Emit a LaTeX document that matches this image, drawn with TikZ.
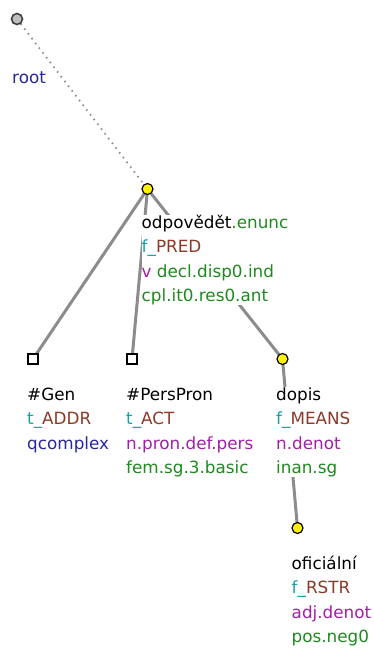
\documentclass[tikz,border=0pt]{standalone}
\usepackage{fontspec}
\setmainfont{DejaVu Sans}
\definecolor{tgreen}{HTML}{1F8A1F}
\definecolor{tteal}{HTML}{1AA0A0}
\definecolor{tbrown}{HTML}{8B3A2A}
\definecolor{tpurple}{HTML}{A020A8}
\definecolor{tblue}{HTML}{28289E}
\definecolor{tedge}{HTML}{8C8C8C}
\tikzset{
  yel/.style={circle,draw=black,line width=1.2pt,fill=yellow,minimum size=11pt,inner sep=0pt},
  rootdot/.style={circle,draw=black!75,line width=1.6pt,fill=black!25,minimum size=11pt,inner sep=0pt},
  sq/.style={rectangle,draw=black,line width=1.3pt,fill=white,minimum size=10pt,inner sep=0pt},
  edge/.style={draw=tedge,line width=3pt},
  lbl/.style={anchor=base west,align=left,inner sep=0pt,fill=white,font=\fontsize{16.8}{24.5}\selectfont},
}
\begin{document}
\begin{tikzpicture}[x=1pt,y=-1pt]
\useasboundingbox (0,0) rectangle (374,648);
% edges
\coordinate (rc) at (17,19);
\coordinate (oc) at (147.5,189);
\coordinate (gc) at (33,359);
\coordinate (pc) at (132,359);
\coordinate (dc) at (282.5,359);
\coordinate (fc) at (297.5,528);
\draw[tedge,line width=1.8pt,dash pattern=on 1.5pt off 4.5pt] (rc) -- (oc);
\draw[edge] (oc) -- (gc);
\draw[edge] (oc) -- (pc);
\draw[edge] (oc) -- (dc);
\draw[edge] (dc) -- (fc);
% labels (anchor = baseline of the last line)
\node[lbl] (troot) at (12,83) {\textcolor{tblue}{root}};
\node[lbl] (todp) at (141.5,301.5) {odpovědět\textcolor{tgreen}{.enunc}\\
\textcolor{tteal}{f\_}\textcolor{tbrown}{PRED}\\
\textcolor{tpurple}{v}\ \textcolor{tgreen}{decl.disp0.ind}\\
\textcolor{tgreen}{cpl.it0.res0.ant}};
\node[lbl] (tgen) at (27,449) {\#Gen\\
\textcolor{tteal}{t\_}\textcolor{tbrown}{ADDR}\\
\textcolor{tblue}{qcomplex}};
\node[lbl] (tpers) at (126,473.5) {\#PersPron\\
\textcolor{tteal}{t\_}\textcolor{tbrown}{ACT}\\
\textcolor{tpurple}{n.pron.def.pers}\\
\textcolor{tgreen}{fem.sg.3.basic}};
\node[lbl] (tdop) at (276,473.5) {dopis\\
\textcolor{tteal}{f\_}\textcolor{tbrown}{MEANS}\\
\textcolor{tpurple}{n.denot}\\
\textcolor{tgreen}{inan.sg}};
\node[lbl] (tofi) at (291.5,642.5) {oficiální\\
\textcolor{tteal}{f\_}\textcolor{tbrown}{RSTR}\\
\textcolor{tpurple}{adj.denot}\\
\textcolor{tgreen}{pos.neg0}};
% nodes
\node[rootdot] (root) at (rc) {};
\node[yel] (odp) at (oc) {};
\node[sq] (gen) at (gc) {};
\node[sq] (pers) at (pc) {};
\node[yel] (dop) at (dc) {};
\node[yel] (ofi) at (fc) {};
\end{tikzpicture}
\end{document}
